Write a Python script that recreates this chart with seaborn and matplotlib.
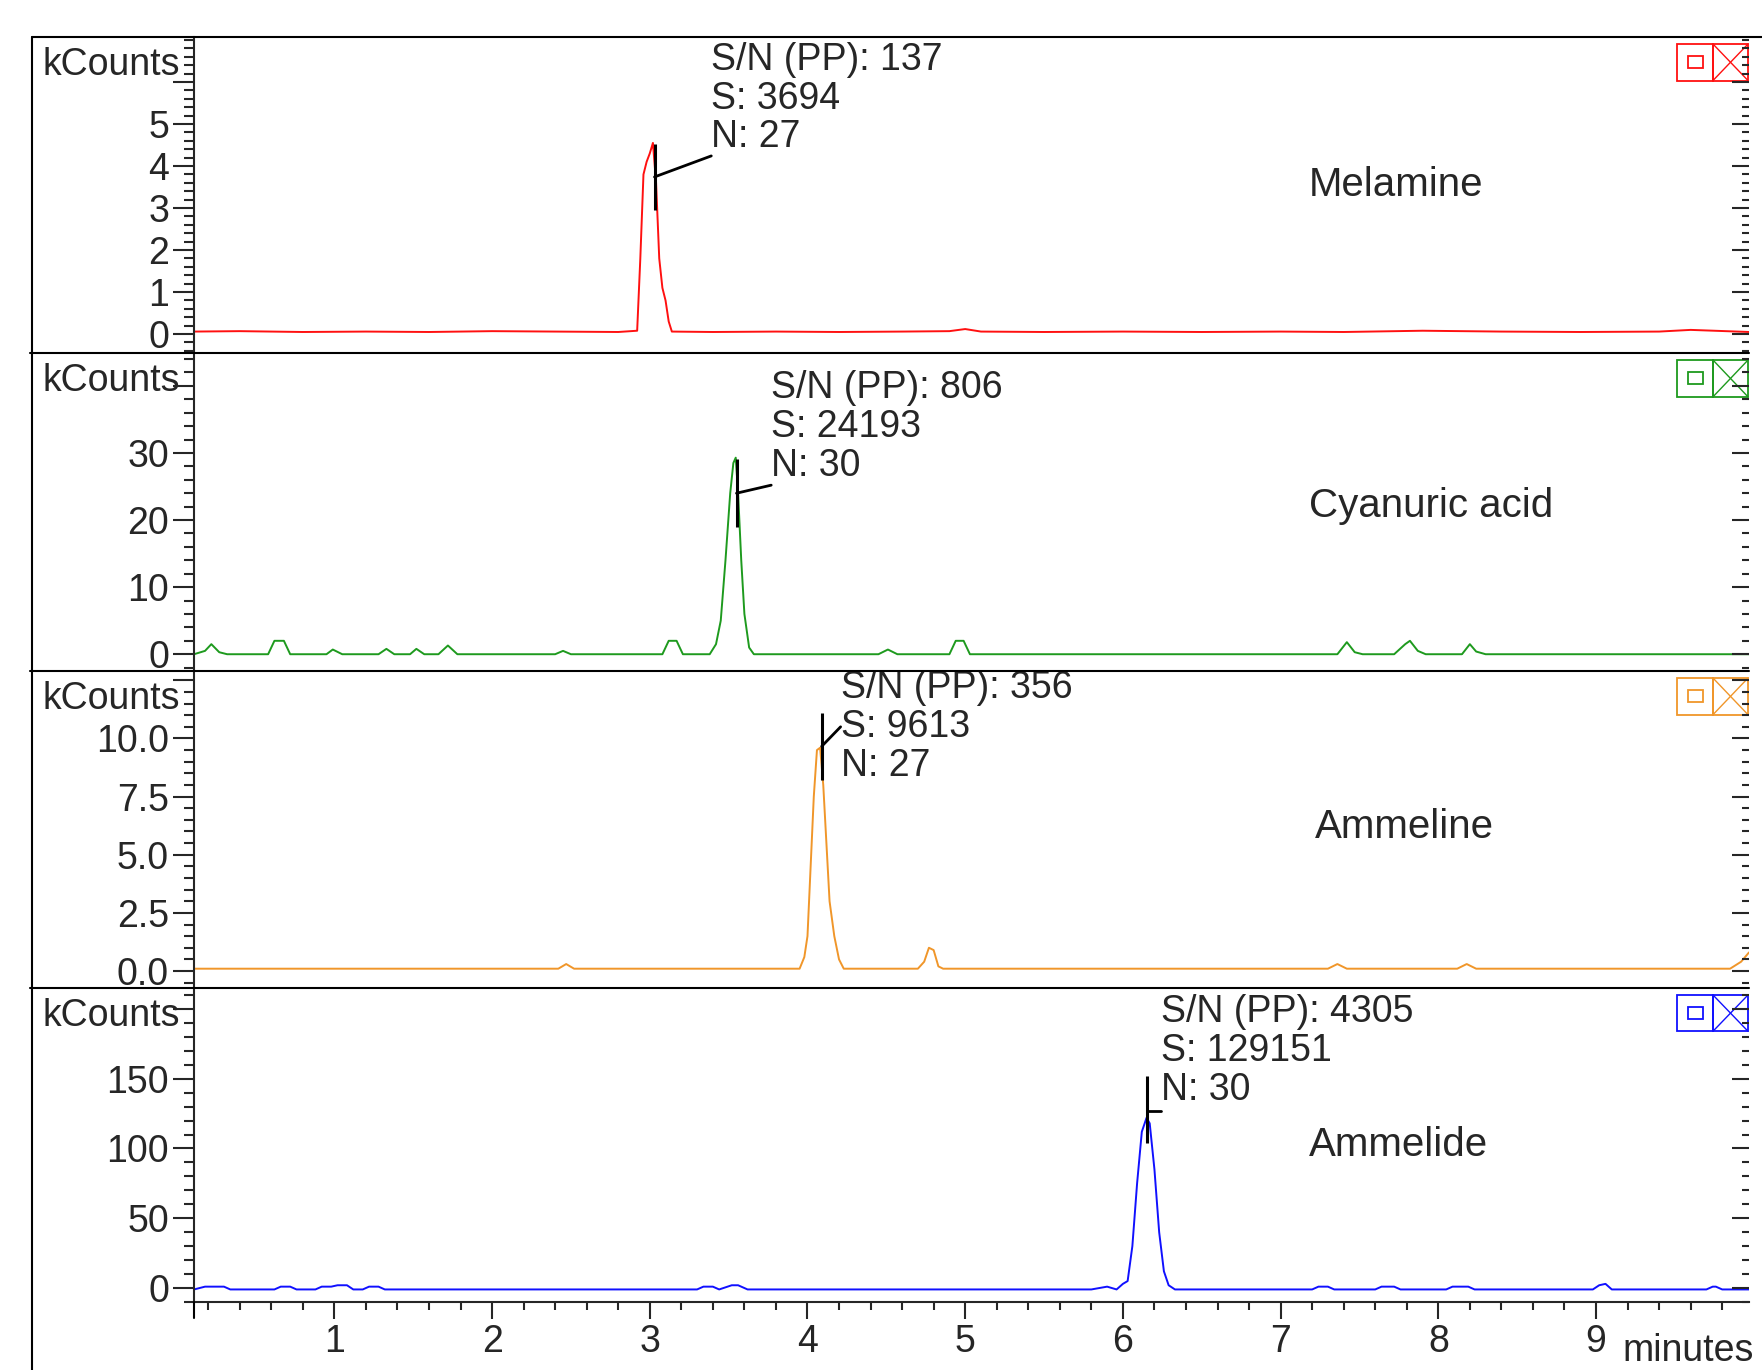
"""
Four stacked chromatogram traces (melamine and its analogues) with S/N markers.
"""
import matplotlib
matplotlib.use("Agg")
import matplotlib.pyplot as plt
import pandas as pd
import seaborn as sns
from matplotlib.lines import Line2D
from matplotlib.patches import Rectangle
from matplotlib.ticker import FixedLocator, MultipleLocator, FuncFormatter

# ─── Data ────────────────────────────────────────────────────────────────

compounds = ["Melamine", "Cyanuric acid", "Ammeline", "Ammelide"]
colors = ["#ff1010", "#1e9a1e", "#f0962a", "#1010ff"]

melamine_t = [0.11, 0.40, 0.80, 1.20, 1.60, 2.00, 2.40, 2.80,
              2.92, 2.94, 2.96, 2.98, 3.00, 3.02, 3.04, 3.06, 3.08, 3.10, 3.12, 3.14,
              3.40, 3.80, 4.20, 4.60, 4.90, 5.00, 5.10, 5.50, 6.00, 6.50, 7.00, 7.40,
              7.90, 8.40, 8.90, 9.40, 9.60, 9.97]
melamine_k = [0.06, 0.07, 0.05, 0.06, 0.05, 0.07, 0.06, 0.05,
              0.08, 1.80, 3.80, 4.10, 4.30, 4.55, 3.60, 1.80, 1.10, 0.80, 0.30, 0.06,
              0.05, 0.06, 0.05, 0.06, 0.07, 0.12, 0.06, 0.05, 0.06, 0.05, 0.06, 0.05,
              0.08, 0.06, 0.05, 0.06, 0.10, 0.05]

cyanuric_t = [0.11, 0.18, 0.22, 0.27, 0.32, 0.58, 0.62, 0.68, 0.72, 0.95, 0.99, 1.05,
              1.28, 1.33, 1.38, 1.48, 1.52, 1.57, 1.66, 1.72, 1.78, 2.40, 2.45, 2.50,
              3.08, 3.12, 3.17, 3.21, 3.38, 3.42, 3.45, 3.48, 3.51, 3.53, 3.545, 3.56,
              3.58, 3.60, 3.63, 3.66, 4.45, 4.51, 4.57, 4.90, 4.94, 4.99, 5.03,
              7.36, 7.42, 7.47, 7.52, 7.72, 7.79, 7.82, 7.87, 7.92, 8.15, 8.20, 8.24,
              8.30, 9.97]
cyanuric_k = [0.0, 0.5, 1.5, 0.3, 0.0, 0.0, 2.0, 2.0, 0.0, 0.0, 0.7, 0.0,
              0.0, 0.8, 0.0, 0.0, 0.8, 0.0, 0.0, 1.3, 0.0, 0.0, 0.5, 0.0,
              0.0, 2.0, 2.0, 0.0, 0.0, 1.5, 5.0, 14.0, 24.0, 28.5, 29.3, 24.0,
              14.0, 6.0, 1.0, 0.0, 0.0, 0.7, 0.0, 0.0, 2.0, 2.0, 0.0,
              0.0, 1.8, 0.3, 0.0, 0.0, 1.5, 2.0, 0.5, 0.0, 0.0, 1.5, 0.4,
              0.0, 0.0]

ammeline_t = [0.11, 1.00, 2.00, 2.42, 2.47, 2.52, 3.50, 3.95, 3.98, 4.00, 4.02, 4.04,
              4.06, 4.08, 4.10, 4.12, 4.14, 4.17, 4.20, 4.23, 4.70, 4.74, 4.77, 4.80,
              4.83, 4.86, 7.30, 7.36, 7.42, 8.12, 8.18, 8.24, 9.85, 9.92, 9.97]
ammeline_k = [0.10, 0.10, 0.10, 0.10, 0.30, 0.10, 0.10, 0.10, 0.60, 1.50, 4.50, 7.50,
              9.50, 9.60, 8.00, 5.50, 3.00, 1.50, 0.50, 0.10, 0.10, 0.40, 1.00, 0.90,
              0.20, 0.10, 0.10, 0.30, 0.10, 0.10, 0.30, 0.10, 0.10, 0.40, 0.80]

ammelide_t = [0.11, 0.18, 0.22, 0.30, 0.34, 0.62, 0.66, 0.72, 0.76, 0.88, 0.92, 0.98,
              1.02, 1.08, 1.12, 1.18, 1.22, 1.28, 1.32, 1.38, 3.30, 3.34, 3.40, 3.44,
              3.52, 3.56, 3.62, 5.80, 5.90, 5.96, 6.00, 6.03, 6.06, 6.09, 6.12, 6.15,
              6.17, 6.20, 6.23, 6.26, 6.29, 6.33, 7.20, 7.24, 7.30, 7.34, 7.60, 7.64,
              7.72, 7.76, 8.05, 8.09, 8.19, 8.23, 8.98, 9.02, 9.06, 9.10, 9.70, 9.74,
              9.76, 9.80, 9.97]
ammelide_k = [-1, 1, 1, 1, -1, -1, 1, 1, -1, -1, 1, 1,
              2, 2, -1, -1, 1, 1, -1, -1, -1, 1, 1, -1,
              2, 2, -1, -1, 1, -1, 3, 5, 30, 75, 112, 122,
              118, 85, 40, 12, 2, -1, -1, 1, 1, -1, -1, 1,
              1, -1, -1, 1, 1, -1, -1, 2, 3, -1, -1, 1,
              1, -1, -1]

traces_t = [melamine_t, cyanuric_t, ammeline_t, ammelide_t]
traces_k = [melamine_k, cyanuric_k, ammeline_k, ammelide_k]

sn_pp = [137, 806, 356, 4305]
signal = [3694, 24193, 9613, 129151]
noise = [27, 30, 27, 30]
peak_rt = [3.03, 3.55, 4.09, 6.15]

# ─── Layout (reference pixels) ───────────────────────────────────────────

W, H = 1762, 1370
AX_L, AX_R = 194, 1749
PANEL_EDGES = [37, 353, 671, 988, 1302]
FS = 27

y_limits = [(-0.45, 7.07), (-2.5, 44.9), (-0.73, 12.9), (-10, 215)]
y_major = [[0, 1, 2, 3, 4, 5, 6], [0, 10, 20, 30, 40],
           [0, 2.5, 5.0, 7.5, 10.0, 12.5], [0, 50, 100, 150, 200]]
y_top_label = [5, 30, 10.0, 150]
y_minor = [0.2, 2, 0.5, 10]
y_fmt = ["{:.0f}", "{:.0f}", "{:.1f}", "{:.0f}"]

# marker: (vertical bottom, vertical top, leader start y, text x, leader end y)
marker_geom = [(2.95, 4.53, 3.74, 3.39, 4.24),
               (18.9, 29.1, 24.0, 3.77, 25.2),
               (8.2, 11.1, 9.66, 4.21, 10.5),
               (104, 152, 126.6, 6.24, 126.6)]
text_top_y = [6.53, 39.7, 12.18, 197.6]
name_pos = [(7.18, 3.55), (7.18, 22.1), (7.22, 6.2), (7.18, 102.4)]


def fx(px):
    return px / W


def fy(py):
    return 1 - py / H


sns.set_style("ticks")
plt.rcParams["font.family"] = ["Liberation Sans", "DejaVu Sans"]
plt.rcParams["axes.linewidth"] = 1.5

fig = plt.figure(figsize=(W / 100, H / 100), dpi=100)

axes = []
for i in range(4):
    top, bot = PANEL_EDGES[i], PANEL_EDGES[i + 1]
    ax = fig.add_axes([fx(AX_L), fy(bot), fx(AX_R) - fx(AX_L), fy(top) - fy(bot)],
                      sharex=axes[0] if axes else None)
    axes.append(ax)

    df = pd.DataFrame({"minutes": traces_t[i], "kCounts": traces_k[i]})
    sns.lineplot(data=df, x="minutes", y="kCounts", ax=ax, color=colors[i],
                 linewidth=1.4, estimator=None, sort=False)

    ax.set_xlim(0.11, 9.97)
    ax.set_ylim(*y_limits[i])
    ax.set_xlabel("")
    ax.set_ylabel("")

    top_lab = y_top_label[i]
    fmt = y_fmt[i]
    ax.yaxis.set_major_locator(FixedLocator(y_major[i]))
    ax.yaxis.set_minor_locator(MultipleLocator(y_minor[i]))
    ax.yaxis.set_major_formatter(
        FuncFormatter(lambda v, p, t=top_lab, f=fmt: f.format(v) if v <= t + 1e-9 else ""))
    ax.tick_params(axis="y", which="major", direction="out", length=15, width=1.5,
                   labelsize=FS, pad=3)
    ax.tick_params(axis="y", which="minor", direction="out", length=7.5, width=1.5)

    # inward ticks on the right edge
    ax2 = ax.twinx()
    ax2.set_ylim(*y_limits[i])
    ax2.yaxis.set_major_locator(FixedLocator(y_major[i]))
    ax2.yaxis.set_minor_locator(MultipleLocator(y_minor[i]))
    ax2.tick_params(axis="y", which="major", direction="in", length=12, width=1.5,
                    labelright=False)
    ax2.tick_params(axis="y", which="minor", direction="in", length=5, width=1.5)
    for s in ax2.spines.values():
        s.set_visible(False)

    for s in ["top", "right"]:
        ax.spines[s].set_visible(False)
    if i < 3:
        ax.spines["bottom"].set_visible(False)
        ax.tick_params(axis="x", which="both", bottom=False, labelbottom=False)

    # S/N marker and leader line
    rt = peak_rt[i]
    v0, v1, ly, tx, ty = marker_geom[i]
    ax.plot([rt, rt], [v0, v1], color="black", lw=2.2, solid_capstyle="butt")
    ax.plot([rt, tx], [ly, ty], color="black", lw=2.0)
    lines = [f"S/N (PP): {sn_pp[i]}", f"S: {signal[i]}", f"N: {noise[i]}"]
    for j, s in enumerate(lines):
        ax.annotate(s, xy=(tx, text_top_y[i]), xytext=(0, -28 * j),
                    textcoords="offset points", ha="left", va="center", fontsize=FS)

    # compound name
    ax.text(name_pos[i][0], name_pos[i][1], compounds[i], ha="left", va="center",
            fontsize=FS + 2)

    # trace icon (restore box + close box) at the top-right corner
    c = colors[i]
    ax.add_patch(Rectangle((0.9537, 0.862), 0.0231, 0.116, transform=ax.transAxes,
                           fill=False, edgecolor=c, lw=1.3, clip_on=False))
    ax.add_patch(Rectangle((0.9768, 0.862), 0.0226, 0.116, transform=ax.transAxes,
                           fill=False, edgecolor=c, lw=1.3, clip_on=False))
    ax.add_patch(Rectangle((0.9608, 0.902), 0.0096, 0.038, transform=ax.transAxes,
                           fill=False, edgecolor=c, lw=1.3, clip_on=False))
    ax.plot([0.9768, 0.9994], [0.862, 0.978], transform=ax.transAxes, color=c, lw=1.0,
            clip_on=False)
    ax.plot([0.9768, 0.9994], [0.978, 0.862], transform=ax.transAxes, color=c, lw=1.0,
            clip_on=False)

    # unit label in the panel corner
    fig.text(fx(180), fy(top + 28), "kCounts", ha="right", va="center", fontsize=FS)

bottom = axes[-1]
bottom.xaxis.set_major_locator(FixedLocator(list(range(1, 10))))
bottom.xaxis.set_minor_locator(MultipleLocator(0.2))
bottom.tick_params(axis="x", which="major", direction="out", length=12, width=1.5,
                   labelsize=FS, pad=4)
bottom.tick_params(axis="x", which="minor", direction="out", length=6, width=1.5)

# frame lines
frame = [((32, 32), (37, H)), ((32, W), (37, 37)),
         ((AX_L, AX_L), (1302, 1318))]
for yy in PANEL_EDGES[1:4]:
    frame.append(((30, AX_R), (yy, yy)))
for (x0, x1), (y0, y1) in frame:
    fig.add_artist(Line2D([fx(x0), fx(x1)], [fy(y0), fy(y1)], transform=fig.transFigure,
                          color="black", lw=1.5))

fig.text(fx(1688), fy(1369), "minutes", ha="center", va="bottom", fontsize=FS)

fig.savefig("out.png", dpi=100)
